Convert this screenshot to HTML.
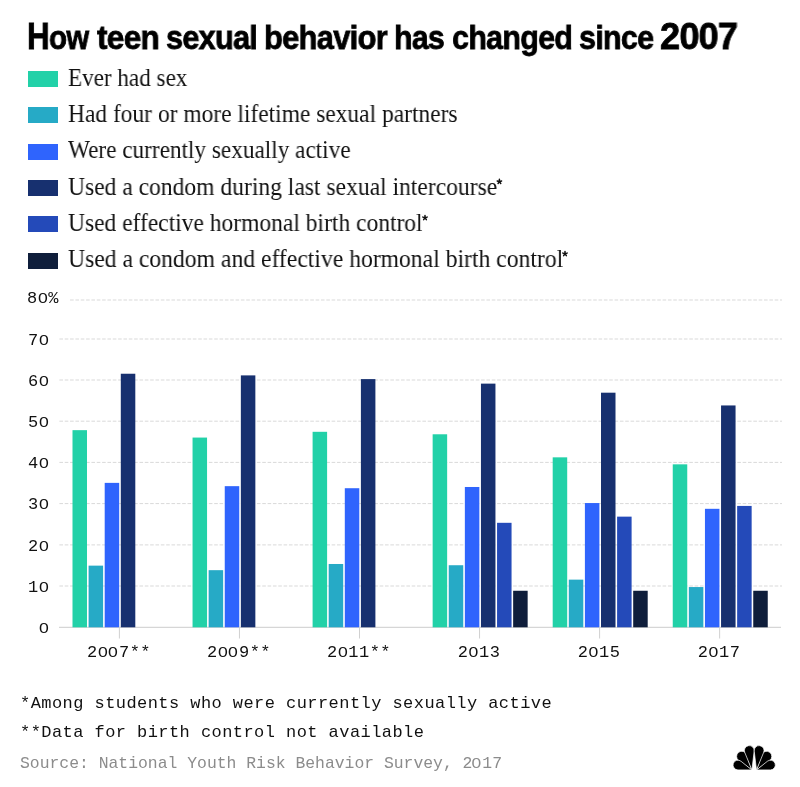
<!DOCTYPE html>
<html><head><meta charset="utf-8"><style>
html,body{margin:0;padding:0;background:#fff;}
body{width:800px;height:787px;position:relative;overflow:hidden;}
.t{position:absolute;white-space:nowrap;}
div{will-change:transform;}
.tw{position:absolute;top:16.6px;font:bold 34px/40px "Liberation Sans",sans-serif;color:#000;transform-origin:0 0;letter-spacing:-0.78px;-webkit-text-stroke:0.8px #000;white-space:nowrap;}
.sw{position:absolute;left:28px;width:29.5px;height:16px;}
.lg{position:absolute;left:67.5px;font:24.5px/1 "Liberation Serif",serif;color:#111;white-space:nowrap;transform-origin:0 0;}
.ast{position:absolute;font:12px/1 "Liberation Serif",serif;color:#111;}
.z{display:inline-block;width:9.6px;margin-right:1.05px;text-align:center;font-family:"Liberation Sans",sans-serif;font-size:15.2px;letter-spacing:0;transform:scaleX(1.16);}
.fn .z{width:8.9px;margin-right:0.94px;font-size:15px;}
.ya{position:absolute;right:750.5px;font:17px/1 "Liberation Mono",monospace;letter-spacing:0.45px;color:#111;white-space:nowrap;}
.xa{position:absolute;font:17px/1 "Liberation Mono",monospace;letter-spacing:0.45px;color:#111;white-space:nowrap;transform:translateX(-50%);}
.fn{position:absolute;left:20.4px;font:17px/1 "Liberation Mono",monospace;letter-spacing:0.44px;color:#111;white-space:nowrap;}
svg{position:absolute;left:0;top:0;}
</style></head><body>
<svg width="800" height="787" viewBox="0 0 800 787">
<line x1="70" y1="300.0" x2="782" y2="300.0" stroke="#d9d9d9" stroke-width="1" stroke-dasharray="3.6 1.738" stroke-dashoffset="10.60"/>
<line x1="59" y1="339.0" x2="782" y2="339.0" stroke="#d9d9d9" stroke-width="1" stroke-dasharray="3.6 1.738" stroke-dashoffset="-0.40"/>
<line x1="59" y1="380.0" x2="782" y2="380.0" stroke="#d9d9d9" stroke-width="1" stroke-dasharray="3.6 1.738" stroke-dashoffset="-0.40"/>
<line x1="59" y1="421.2" x2="782" y2="421.2" stroke="#d9d9d9" stroke-width="1" stroke-dasharray="3.6 1.738" stroke-dashoffset="-0.40"/>
<line x1="59" y1="462.4" x2="782" y2="462.4" stroke="#d9d9d9" stroke-width="1" stroke-dasharray="3.6 1.738" stroke-dashoffset="-0.40"/>
<line x1="59" y1="503.6" x2="782" y2="503.6" stroke="#d9d9d9" stroke-width="1" stroke-dasharray="3.6 1.738" stroke-dashoffset="-0.40"/>
<line x1="59" y1="544.9" x2="782" y2="544.9" stroke="#d9d9d9" stroke-width="1" stroke-dasharray="3.6 1.738" stroke-dashoffset="-0.40"/>
<line x1="59" y1="586.0" x2="782" y2="586.0" stroke="#d9d9d9" stroke-width="1" stroke-dasharray="3.6 1.738" stroke-dashoffset="-0.40"/>
<line x1="59" y1="627.4" x2="781" y2="627.4" stroke="#d6d6d6" stroke-width="1.2"/>
<rect x="72.50" y="430.16" width="14.5" height="197.14" fill="#22d1a8"/>
<rect x="88.60" y="565.64" width="14.5" height="61.66" fill="#26aac6"/>
<rect x="104.70" y="482.87" width="14.5" height="144.43" fill="#2f64fd"/>
<rect x="120.80" y="373.74" width="14.5" height="253.56" fill="#17306f"/>
<line x1="119.40" y1="627.0" x2="119.40" y2="638.5" stroke="#d0d0d0" stroke-width="1"/>
<rect x="192.55" y="437.57" width="14.5" height="189.73" fill="#22d1a8"/>
<rect x="208.65" y="570.17" width="14.5" height="57.13" fill="#26aac6"/>
<rect x="224.75" y="486.16" width="14.5" height="141.14" fill="#2f64fd"/>
<rect x="240.85" y="375.39" width="14.5" height="251.91" fill="#17306f"/>
<line x1="239.45" y1="627.0" x2="239.45" y2="638.5" stroke="#d0d0d0" stroke-width="1"/>
<rect x="312.60" y="431.81" width="14.5" height="195.49" fill="#22d1a8"/>
<rect x="328.70" y="563.99" width="14.5" height="63.31" fill="#26aac6"/>
<rect x="344.80" y="488.22" width="14.5" height="139.08" fill="#2f64fd"/>
<rect x="360.90" y="379.10" width="14.5" height="248.20" fill="#17306f"/>
<line x1="359.50" y1="627.0" x2="359.50" y2="638.5" stroke="#d0d0d0" stroke-width="1"/>
<rect x="432.65" y="434.28" width="14.5" height="193.02" fill="#22d1a8"/>
<rect x="448.75" y="565.23" width="14.5" height="62.07" fill="#26aac6"/>
<rect x="464.85" y="486.99" width="14.5" height="140.31" fill="#2f64fd"/>
<rect x="480.95" y="383.63" width="14.5" height="243.67" fill="#17306f"/>
<rect x="497.05" y="522.81" width="14.5" height="104.49" fill="#244ab9"/>
<rect x="513.15" y="590.76" width="14.5" height="36.54" fill="#0f1e3b"/>
<line x1="479.55" y1="627.0" x2="479.55" y2="638.5" stroke="#d0d0d0" stroke-width="1"/>
<rect x="552.70" y="457.34" width="14.5" height="169.96" fill="#22d1a8"/>
<rect x="568.80" y="579.64" width="14.5" height="47.66" fill="#26aac6"/>
<rect x="584.90" y="503.05" width="14.5" height="124.25" fill="#2f64fd"/>
<rect x="601.00" y="392.69" width="14.5" height="234.61" fill="#17306f"/>
<rect x="617.10" y="516.64" width="14.5" height="110.66" fill="#244ab9"/>
<rect x="633.20" y="590.76" width="14.5" height="36.54" fill="#0f1e3b"/>
<line x1="599.60" y1="627.0" x2="599.60" y2="638.5" stroke="#d0d0d0" stroke-width="1"/>
<rect x="672.75" y="464.34" width="14.5" height="162.96" fill="#22d1a8"/>
<rect x="688.85" y="587.06" width="14.5" height="40.24" fill="#26aac6"/>
<rect x="704.95" y="508.81" width="14.5" height="118.49" fill="#2f64fd"/>
<rect x="721.05" y="405.45" width="14.5" height="221.85" fill="#17306f"/>
<rect x="737.15" y="505.93" width="14.5" height="121.37" fill="#244ab9"/>
<rect x="753.25" y="590.76" width="14.5" height="36.54" fill="#0f1e3b"/>
<line x1="719.65" y1="627.0" x2="719.65" y2="638.5" stroke="#d0d0d0" stroke-width="1"/>
<path d="M751.82,769.90 L746.68,754.78 A5.175,5.175 0 1 0 738.79,760.67 Z" fill="#000" stroke="#fff" stroke-width="0.7"/>
<path d="M756.58,769.90 L769.61,760.67 A5.175,5.175 0 1 0 761.72,754.78 Z" fill="#000" stroke="#fff" stroke-width="0.7"/>
<path d="M751.92,769.90 L754.17,751.13 A4.91625,4.91625 0 1 0 744.74,752.41 Z" fill="#000" stroke="#fff" stroke-width="0.7"/>
<path d="M756.48,769.90 L763.66,752.41 A4.91625,4.91625 0 1 0 754.23,751.13 Z" fill="#000" stroke="#fff" stroke-width="0.7"/>
<path d="M751.82,769.90 L740.99,761.24 A4.8645,4.8645 0 1 0 737.95,769.90 Z" fill="#000" stroke="#fff" stroke-width="0.7"/>
<path d="M756.58,769.90 L770.45,769.90 A4.8645,4.8645 0 1 0 767.41,761.24 Z" fill="#000" stroke="#fff" stroke-width="0.7"/>
</svg>
<div class="tw" style="left:27.47px;font-size:34px;transform:scaleX(0.8643)"><span style="font-size:36.3px">H</span>ow</div>
<div class="tw" style="left:97.40px;font-size:34px;transform:scaleX(0.9288)">teen</div>
<div class="tw" style="left:166.00px;font-size:34px;transform:scaleX(0.9000)">sexual</div>
<div class="tw" style="left:264.28px;font-size:34px;transform:scaleX(0.9082)">behavior</div>
<div class="tw" style="left:394.32px;font-size:34px;transform:scaleX(0.8907)">has</div>
<div class="tw" style="left:451.80px;font-size:34px;transform:scaleX(0.8955)">changed</div>
<div class="tw" style="left:578.60px;font-size:34px;transform:scaleX(0.8951)">since</div>
<div class="tw" style="left:659.71px;font-size:36.3px;transform:scaleX(0.9941)">2007</div>
<div class="sw" style="top:71.0px;background:#22d1a8"></div>
<div class="lg" style="top:65.8px;transform:scaleX(0.9437)">Ever had sex</div>
<div class="sw" style="top:107.3px;background:#26aac6"></div>
<div class="lg" style="top:102.1px;transform:scaleX(0.9575)">Had four or more lifetime sexual partners</div>
<div class="sw" style="top:143.6px;background:#2f64fd"></div>
<div class="lg" style="top:138.4px;transform:scaleX(0.9481)">Were currently sexually active</div>
<div class="sw" style="top:179.9px;background:#17306f"></div>
<div class="lg" style="top:174.7px;transform:scaleX(0.9616)">Used a condom during last sexual intercourse</div>
<svg style="position:absolute;left:0;top:0" width="800" height="300"><path d="M499.40,181.05L499.40,179.35M499.97,181.46L501.59,180.94M499.75,182.14L500.75,183.51M499.05,182.14L498.05,183.51M498.83,181.46L497.21,180.94" stroke="#111" stroke-width="1.5" stroke-linecap="round" fill="none"/><circle cx="499.40" cy="181.65" r="0.8" fill="#111"/></svg>
<div class="sw" style="top:216.2px;background:#244ab9"></div>
<div class="lg" style="top:211.0px;transform:scaleX(0.9593)">Used effective hormonal birth control</div>
<svg style="position:absolute;left:0;top:0" width="800" height="300"><path d="M425.00,217.20L425.00,215.50M425.57,217.61L427.19,217.09M425.35,218.29L426.35,219.66M424.65,218.29L423.65,219.66M424.43,217.61L422.81,217.09" stroke="#111" stroke-width="1.5" stroke-linecap="round" fill="none"/><circle cx="425.00" cy="217.80" r="0.8" fill="#111"/></svg>
<div class="sw" style="top:252.5px;background:#0f1e3b"></div>
<div class="lg" style="top:247.3px;transform:scaleX(0.9648)">Used a condom and effective hormonal birth control</div>
<svg style="position:absolute;left:0;top:0" width="800" height="300"><path d="M565.00,253.20L565.00,251.50M565.57,253.61L567.19,253.09M565.35,254.29L566.35,255.66M564.65,254.29L563.65,255.66M564.43,253.61L562.81,253.09" stroke="#111" stroke-width="1.5" stroke-linecap="round" fill="none"/><circle cx="565.00" cy="253.80" r="0.8" fill="#111"/></svg>
<div class="ya" style="top:290.2px;right:741px">8<span class="z">0</span>%</div>
<div class="ya" style="top:331.8px">7<span class="z">0</span></div>
<div class="ya" style="top:372.8px">6<span class="z">0</span></div>
<div class="ya" style="top:414.0px">5<span class="z">0</span></div>
<div class="ya" style="top:455.2px">4<span class="z">0</span></div>
<div class="ya" style="top:496.4px">3<span class="z">0</span></div>
<div class="ya" style="top:537.7px">2<span class="z">0</span></div>
<div class="ya" style="top:578.8px">1<span class="z">0</span></div>
<div class="ya" style="top:619.8px"><span class="z">0</span></div>
<div class="xa" style="left:118.8px;top:644px">2<span class="z">0</span><span class="z">0</span>7**</div>
<div class="xa" style="left:238.9px;top:644px">2<span class="z">0</span><span class="z">0</span>9**</div>
<div class="xa" style="left:358.9px;top:644px">2<span class="z">0</span>11**</div>
<div class="xa" style="left:478.9px;top:644px">2<span class="z">0</span>13</div>
<div class="xa" style="left:599.0px;top:644px">2<span class="z">0</span>15</div>
<div class="xa" style="left:719.0px;top:644px">2<span class="z">0</span>17</div>
<div class="fn" style="top:694.5px">*Among students who were currently sexually active</div>
<div class="fn" style="top:723.8px">**Data for birth control not available</div>
<div class="fn" style="top:754.8px;color:#8c8c8c;font-size:16.4px;letter-spacing:0">Source: National Youth Risk Behavior Survey, 2<span class="z">0</span>17</div>
</body></html>
